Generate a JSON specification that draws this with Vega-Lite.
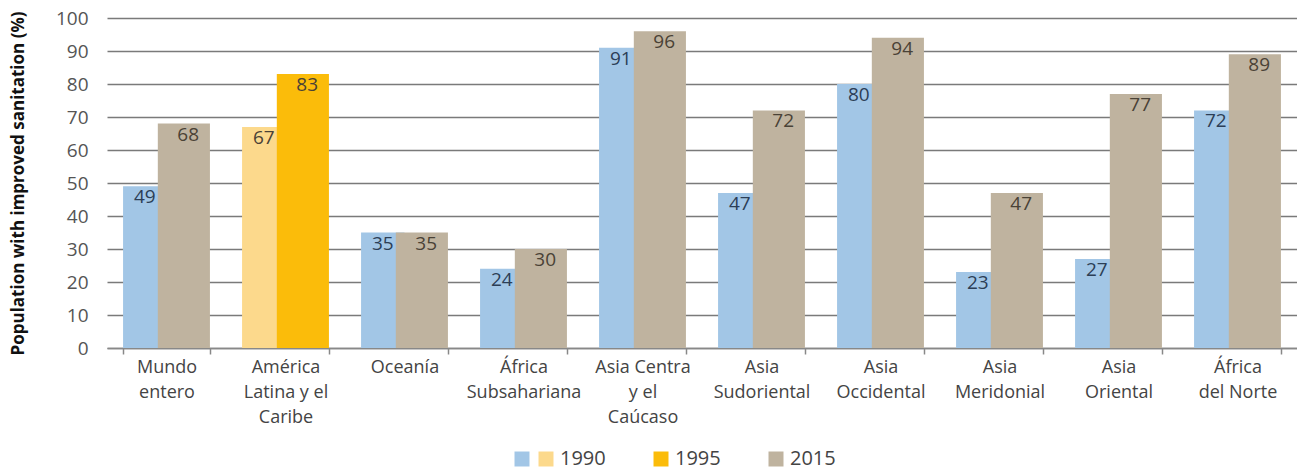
{
  "$schema": "https://vega.github.io/schema/vega-lite/v6.json",
  "width": 1190,
  "height": 330,
  "padding": {"left": 9, "top": 9, "right": 0, "bottom": 0},
  "background": "white",
  "config": {
    "view": {"stroke": null},
    "font": "Open Sans"
  },
  "data": {
    "values": [
      {"region": "Mundo|entero", "slot": "a", "series": "1990", "value": 49},
      {"region": "Mundo|entero", "slot": "b", "series": "2015", "value": 68},
      {"region": "América|Latina y el|Caribe", "slot": "a", "series": "1990L", "value": 67},
      {"region": "América|Latina y el|Caribe", "slot": "b", "series": "1995", "value": 83},
      {"region": "Oceanía", "slot": "a", "series": "1990", "value": 35},
      {"region": "Oceanía", "slot": "b", "series": "2015", "value": 35},
      {"region": "África|Subsahariana", "slot": "a", "series": "1990", "value": 24},
      {"region": "África|Subsahariana", "slot": "b", "series": "2015", "value": 30},
      {"region": "Asia Centra|y el|Caúcaso", "slot": "a", "series": "1990", "value": 91},
      {"region": "Asia Centra|y el|Caúcaso", "slot": "b", "series": "2015", "value": 96},
      {"region": "Asia|Sudoriental", "slot": "a", "series": "1990", "value": 47},
      {"region": "Asia|Sudoriental", "slot": "b", "series": "2015", "value": 72},
      {"region": "Asia|Occidental", "slot": "a", "series": "1990", "value": 80},
      {"region": "Asia|Occidental", "slot": "b", "series": "2015", "value": 94},
      {"region": "Asia|Meridonial", "slot": "a", "series": "1990", "value": 23},
      {"region": "Asia|Meridonial", "slot": "b", "series": "2015", "value": 47},
      {"region": "Asia|Oriental", "slot": "a", "series": "1990", "value": 27},
      {"region": "Asia|Oriental", "slot": "b", "series": "2015", "value": 77},
      {"region": "África|del Norte", "slot": "a", "series": "1990", "value": 72},
      {"region": "África|del Norte", "slot": "b", "series": "2015", "value": 89}
    ]
  },
  "encoding": {
    "x": {
      "field": "region",
      "type": "nominal",
      "sort": null,
      "scale": {"paddingInner": 0.27, "paddingOuter": 0.135},
      "axis": {
        "title": null,
        "labelAngle": 0,
        "labelExpr": "datum.value ? split(datum.value, '|') : ''",
        "labelFontSize": 18,
        "labelLineHeight": 25,
        "labelColor": "#444",
        "labelBaseline": "top",
        "labelPadding": 4,
        "ticks": true,
        "tickBand": "extent",
        "tickSize": 6,
        "tickColor": "#888",
        "tickWidth": 1.5,
        "domainColor": "#888",
        "domainWidth": 1.5,
        "grid": false
      }
    },
    "xOffset": {
      "field": "slot",
      "type": "nominal",
      "scale": {"paddingInner": 0, "paddingOuter": 0}
    },
    "y": {
      "field": "value",
      "type": "quantitative",
      "scale": {"domain": [0, 100]},
      "axis": {
        "title": "Population with improved sanitation (%)",
        "titleFontSize": 17,
        "titleFontWeight": "bold",
        "titleColor": "#111",
        "titlePadding": 28,
        "values": [0, 10, 20, 30, 40, 50, 60, 70, 80, 90, 100],
        "labelFontSize": 19,
        "labelColor": "#555",
        "labelPadding": 19,
        "domain": false,
        "ticks": false,
        "grid": true,
        "gridColor": "#7a7a7a",
        "gridWidth": 1.5
      }
    }
  },
  "layer": [
    {
      "transform": [{"filter": "datum.slot == 'a'"}],
      "mark": {"type": "bar", "width": {"band": 1}},
      "encoding": {
        "color": {
          "field": "series",
          "type": "nominal",
          "scale": {
            "domain": ["1990", "1990L", "1995", "2015"],
            "range": ["#a2c6e6", "#fcd98c", "#fbbc0a", "#bfb39f"]
          },
          "legend": {
            "orient": "none",
            "legendX": 405,
            "legendY": 431,
            "direction": "horizontal",
            "title": null,
            "symbolType": "square",
            "symbolSize": 225,
            "symbolStrokeWidth": 0,
            "labelFontSize": 20,
            "labelColor": "#444",
            "labelOffset": 4,
            "columnPadding": -3,
            "labelExpr": "datum.value == '1990' ? '' : (datum.value == '1990L' ? '1990\u2800\u2800\u2800' : (datum.value == '1995' ? '1995\u2800\u2800\u2800' : datum.value))"
          }
        }
      }
    },
    {
      "transform": [{"filter": "datum.slot == 'b'"}],
      "mark": {"type": "bar", "width": {"band": 1.2}},
      "encoding": {
        "color": {"field": "series", "type": "nominal"}
      }
    },
    {
      "mark": {"type": "text", "baseline": "top", "dy": 2, "fontSize": 19},
      "encoding": {
        "text": {"field": "value", "type": "quantitative"},
        "color": {
          "condition": {"test": "datum.series == '1990'", "value": "#2c3e56"},
          "value": "#4a4236"
        }
      }
    }
  ]
}
